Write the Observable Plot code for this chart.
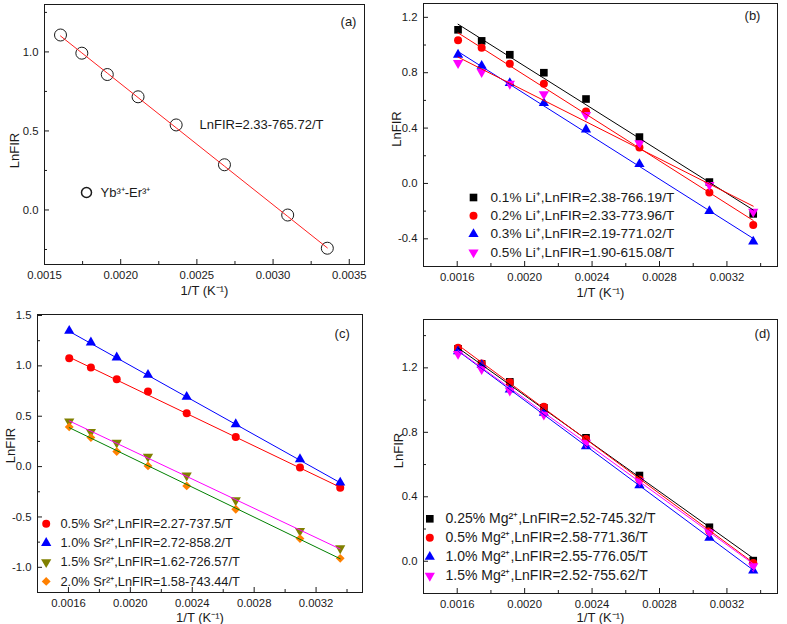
<!DOCTYPE html>
<html><head><meta charset="utf-8">
<script src="https://cdn.jsdelivr.net/npm/d3@7"></script>
<script src="https://cdn.jsdelivr.net/npm/@observablehq/plot@0.6"></script>
<style>
body{margin:0;background:#fff;}
#wrap{position:relative;width:787px;height:624px;overflow:hidden;font-family:"Liberation Sans",Arial,sans-serif;}
</style></head><body><div id="wrap"></div>
<script>
// 1/T values (K^-1), T = 623 ... 298 K
const invT = [0.001605, 0.001745, 0.001912, 0.002114, 0.002364, 0.002681, 0.003096, 0.003356];

// Panel (a)
const aVals = [1.107, 0.992, 0.857, 0.716, 0.538, 0.286, -0.032, -0.242];
const aFit = [2.33, 765.72];
const aLegend = "Yb³⁺-Er³⁺";
const aEquation = "LnFIR=2.33-765.72/T";

// Panel (b)
const bLabels = ["0.1% Li⁺,LnFIR=2.38-766.19/T", "0.2% Li⁺,LnFIR=2.33-773.96/T", "0.3% Li⁺,LnFIR=2.19-771.02/T", "0.5% Li⁺,LnFIR=1.90-615.08/T"];
const bVals1 = [1.11, 1.03, 0.93, 0.80, 0.61, 0.335, 0.01, -0.22];
const bVals2 = [1.035, 0.98, 0.865, 0.72, 0.52, 0.26, -0.065, -0.30];
const bVals3 = [0.93, 0.85, 0.725, 0.58, 0.39, 0.14, -0.20, -0.42];
const bVals4 = [0.87, 0.805, 0.72, 0.645, 0.495, 0.29, -0.01, -0.205];
const bIntercepts = [2.38, 2.33, 2.19, 1.90];
const bSlopes = [766.19, 773.96, 771.02, 615.08];

// Panel (c)
const cLabels = ["0.5% Sr²⁺,LnFIR=2.27-737.5/T", "1.0% Sr²⁺,LnFIR=2.72-858.2/T", "1.5% Sr²⁺,LnFIR=1.62-726.57/T", "2.0% Sr²⁺,LnFIR=1.58-743.44/T"];
const cVals1 = [1.076, 0.983, 0.868, 0.745, 0.530, 0.295, -0.010, -0.209];
const cVals2 = [1.348, 1.232, 1.083, 0.911, 0.692, 0.421, 0.073, -0.159];
const cVals3 = [0.447, 0.344, 0.238, 0.099, -0.089, -0.334, -0.639, -0.811];
const cVals4 = [0.394, 0.288, 0.149, 0.007, -0.192, -0.424, -0.715, -0.911];
const cIntercepts = [2.27, 2.72, 1.62, 1.58];
const cSlopes = [737.5, 858.2, 726.57, 743.44];

// Panel (d)
const dLabels = ["0.25% Mg²⁺,LnFIR=2.52-745.32/T", "0.5% Mg²⁺,LnFIR=2.58-771.36/T", "1.0% Mg²⁺,LnFIR=2.55-776.05/T", "1.5% Mg²⁺,LnFIR=2.52-755.62/T"];
const dVals1 = [1.318, 1.225, 1.113, 0.952, 0.766, 0.532, 0.211, 0.004];
const dVals2 = [1.324, 1.227, 1.111, 0.958, 0.759, 0.507, 0.186, -0.010];
const dVals3 = [1.303, 1.217, 1.066, 0.921, 0.714, 0.472, 0.145, -0.058];
const dVals4 = [1.287, 1.192, 1.059, 0.910, 0.735, 0.497, 0.180, -0.031];
const dIntercepts = [2.52, 2.58, 2.55, 2.52];
const dSlopes = [745.32, 771.36, 776.05, 755.62];

// Ticks
const xTicksA = [0.0015, 0.0020, 0.0025, 0.0030, 0.0035];
const xTickLabelsA = ["0.0015", "0.0020", "0.0025", "0.0030", "0.0035"];
const xMinorA = [0.00175, 0.00225, 0.00275, 0.00325];
const yTicksA = [0.0, 0.5, 1.0];
const yTickLabelsA = ["0.0", "0.5", "1.0"];
const yMinorA = [-0.25, 0.25, 0.75, 1.25];

const xTicksB = [0.0016, 0.0020, 0.0024, 0.0028, 0.0032];
const xTickLabelsB = ["0.0016", "0.0020", "0.0024", "0.0028", "0.0032"];
const xMinorB = [0.0014, 0.0018, 0.0022, 0.0026, 0.0030, 0.0034];
const yTicksB = [-0.4, 0.0, 0.4, 0.8, 1.2];
const yTickLabelsB = ["-0.4", "0.0", "0.4", "0.8", "1.2"];
const yMinorB = [-0.6, -0.2, 0.2, 0.6, 1.0];

const yTicksC = [-1.0, -0.5, 0.0, 0.5, 1.0, 1.5];
const yTickLabelsC = ["-1.0", "-0.5", "0.0", "0.5", "1.0", "1.5"];
const yMinorC = [-1.25, -0.75, -0.25, 0.25, 0.75, 1.25];

const yTicksD = [0.0, 0.4, 0.8, 1.2];
const yTickLabelsD = ["0.0", "0.4", "0.8", "1.2"];
const yMinorD = [-0.2, 0.2, 0.6, 1.0, 1.4];

const xLabel = "1/T (K⁻¹)";
const yLabel = "LnFIR";

function fmt(ticks, labels) { return d => { const i = ticks.findIndex(t => Math.abs(t - d) < 1e-9); return i >= 0 ? labels[i] : ""; }; }

const ink = "#1a1a1a";
function label(txt, frameAnchor, dx, dy, extra) {
  return Plot.text([txt], {frameAnchor, dx, dy, text: d => d, textAnchor: "middle", lineAnchor: "middle", fontSize: 13, fill: ink, ...(extra || {})});
}

function panel(cfg) {
  const pw = cfg.width - cfg.ml - cfg.mr, ph = cfg.height - cfg.mt - cfg.mb;
  const marks = [
    Plot.frame({stroke: ink}),
    Plot.tickX(cfg.xTicks, {x: d => d, insetTop: ph - 5, stroke: ink}),
    Plot.tickX(cfg.xMinor, {x: d => d, insetTop: ph - 3, stroke: ink}),
    Plot.tickY(cfg.yTicks, {y: d => d, insetRight: pw - 5, stroke: ink}),
    Plot.tickY(cfg.yMinor, {y: d => d, insetRight: pw - 3, stroke: ink}),
    Plot.axisX(cfg.xTicks, {tickSize: 0, tickPadding: 6, tickFormat: fmt(cfg.xTicks, cfg.xLabels), label: null, fill: ink, fontSize: 11.3}),
    Plot.axisY(cfg.yTicks, {tickSize: 0, tickPadding: 6, tickFormat: fmt(cfg.yTicks, cfg.yLabels), label: null, fill: ink, fontSize: 11.3}),
    label(xLabel, "bottom", 0, cfg.xlDy),
    label(yLabel, "left", cfg.ylDx, cfg.ylDy, {rotate: -90}),
    label(cfg.tag, "top-left", cfg.tagPos[0], cfg.tagPos[1])
  ];
  cfg.series.forEach(s => {
    const rows = invT.map((x, k) => ({x, y: s.vals[k]}));
    marks.push(Plot.dot(rows, {x: "x", y: "y", symbol: s.symbol, r: s.r, fill: s.fill, stroke: s.stroke, rotate: s.rotate || 0, strokeWidth: 1}));
  });
  cfg.series.forEach(s => {
    const fitRows = invT.map(x => ({x, y: s.fit[0] - s.fit[1] * x}));
    marks.push(Plot.line(fitRows, {x: "x", y: "y", stroke: s.line, strokeWidth: 1}));
  });
  cfg.series.forEach((s, i) => {
    if (!s.label) return;
    const dy = cfg.leg.dy + i * cfg.leg.step;
    marks.push(Plot.dot([0], {frameAnchor: "top-left", dx: cfg.leg.mx, dy, symbol: s.symbol, r: s.lr || s.r, fill: s.fill, stroke: s.stroke, rotate: s.rotate || 0}));
    marks.push(Plot.text([s.label], {frameAnchor: "top-left", dx: cfg.leg.tx, dy, text: d => d, textAnchor: "start", lineAnchor: "middle", fontSize: cfg.leg.fs, fill: ink}));
  });
  if (cfg.extra) cfg.extra.forEach(m => marks.push(m));
  const svg = Plot.plot({
    width: cfg.width, height: cfg.height,
    marginLeft: cfg.ml, marginRight: cfg.mr, marginTop: cfg.mt, marginBottom: cfg.mb,
    x: {domain: cfg.xDomain}, y: {domain: cfg.yDomain},
    style: {fontFamily: "'Liberation Sans', Arial, sans-serif", fontSize: "11px", background: "transparent", overflow: "visible"},
    marks
  });
  svg.style.position = "absolute";
  svg.style.left = cfg.left + "px";
  svg.style.top = cfg.top + "px";
  document.getElementById("wrap").appendChild(svg);
}

// (a)
panel({
  left: 0, top: 0, width: 393, height: 300, ml: 44, mr: 29, mt: 4, mb: 36,
  xDomain: [0.0015, 0.0036], yDomain: [-0.345, 1.3],
  xTicks: xTicksA, xLabels: xTickLabelsA, xMinor: xMinorA,
  yTicks: yTicksA, yLabels: yTickLabelsA, yMinor: yMinorA,
  xlDy: 26, ylDx: -30, ylDy: 16, tag: "(a)", tagPos: [304, 17],
  series: [{vals: aVals, fit: aFit, symbol: "circle", r: 6, fill: "none", stroke: "#1a1a1a", line: "#ff2020", label: aLegend, lr: 5}],
  leg: {mx: 42, tx: 56, dy: 188, step: 18, fs: 13},
  extra: [Plot.text([aEquation], {frameAnchor: "top-left", dx: 155, dy: 120, text: d => d, textAnchor: "start", lineAnchor: "middle", fontSize: 13, fill: ink})]
});

// (b)
const bStyle = [
  {symbol: "square", r: 4.3, fill: "#000000", line: "#000000"},
  {symbol: "circle", r: 4, fill: "#ff0000", line: "#ff0000"},
  {symbol: "triangle", r: 3.8, fill: "#0000ff", line: "#0000ff"},
  {symbol: "triangle", r: 3.8, fill: "#ff00ff", line: "#ff0000", rotate: 180}
];
panel({
  left: 385, top: 0, width: 402, height: 300, ml: 38, mr: 10, mt: 3, mb: 34,
  xDomain: [0.0014, 0.0035], yDomain: [-0.6, 1.3],
  xTicks: xTicksB, xLabels: xTickLabelsB, xMinor: xMinorB,
  yTicks: yTicksB, yLabels: yTickLabelsB, yMinor: yMinorB,
  xlDy: 26, ylDx: -27, ylDy: -6, tag: "(b)", tagPos: [329, 12],
  series: [bVals1, bVals2, bVals3, bVals4].map((v, i) => ({...bStyle[i], vals: v, fit: [bIntercepts[i], bSlopes[i]], label: bLabels[i]})),
  leg: {mx: 50, tx: 67, dy: 194, step: 18.3, fs: 13.6}
});

// (c)
const cStyle = [
  {symbol: "circle", r: 4, fill: "#ff0000", line: "#ff0000"},
  {symbol: "triangle", r: 3.8, fill: "#0000ff", line: "#0000ff"},
  {symbol: "triangle", r: 3.8, fill: "#808000", line: "#ff00ff", rotate: 180},
  {symbol: "diamond2", r: 4, fill: "#ff8000", line: "#008000"}
];
panel({
  left: 0, top: 300, width: 393, height: 324, ml: 37, mr: 31, mt: 14, mb: 32,
  xDomain: [0.0014, 0.0035], yDomain: [-1.25, 1.51],
  xTicks: xTicksB, xLabels: xTickLabelsB, xMinor: xMinorB,
  yTicks: yTicksC, yLabels: yTickLabelsC, yMinor: yMinorC,
  xlDy: 25, ylDx: -27, ylDy: -8, tag: "(c)", tagPos: [304.7, 19],
  series: [cVals1, cVals2, cVals3, cVals4].map((v, i) => ({...cStyle[i], vals: v, fit: [cIntercepts[i], cSlopes[i]], label: cLabels[i]})),
  leg: {mx: 8.7, tx: 23, dy: 209.3, step: 19.2, fs: 12.8}
});

// (d)
const dStyle = [
  {symbol: "square", r: 4.3, fill: "#000000", line: "#000000"},
  {symbol: "circle", r: 4, fill: "#ff0000", line: "#ff0000"},
  {symbol: "triangle", r: 3.8, fill: "#0000ff", line: "#0000ff"},
  {symbol: "triangle", r: 3.8, fill: "#ff00ff", line: "#ff00ff", rotate: 180}
];
panel({
  left: 385, top: 300, width: 402, height: 324, ml: 38, mr: 10, mt: 19, mb: 31,
  xDomain: [0.0014, 0.0035], yDomain: [-0.2, 1.5],
  xTicks: xTicksB, xLabels: xTickLabelsB, xMinor: xMinorB,
  yTicks: yTicksD, yLabels: yTickLabelsD, yMinor: yMinorD,
  xlDy: 24, ylDx: -25, ylDy: -6, tag: "(d)", tagPos: [339, 14],
  series: [dVals1, dVals2, dVals3, dVals4].map((v, i) => ({...dStyle[i], vals: v, fit: [dIntercepts[i], dSlopes[i]], label: dLabels[i]})),
  leg: {mx: 6.3, tx: 22, dy: 199.3, step: 19, fs: 14}
});
</script></body></html>
